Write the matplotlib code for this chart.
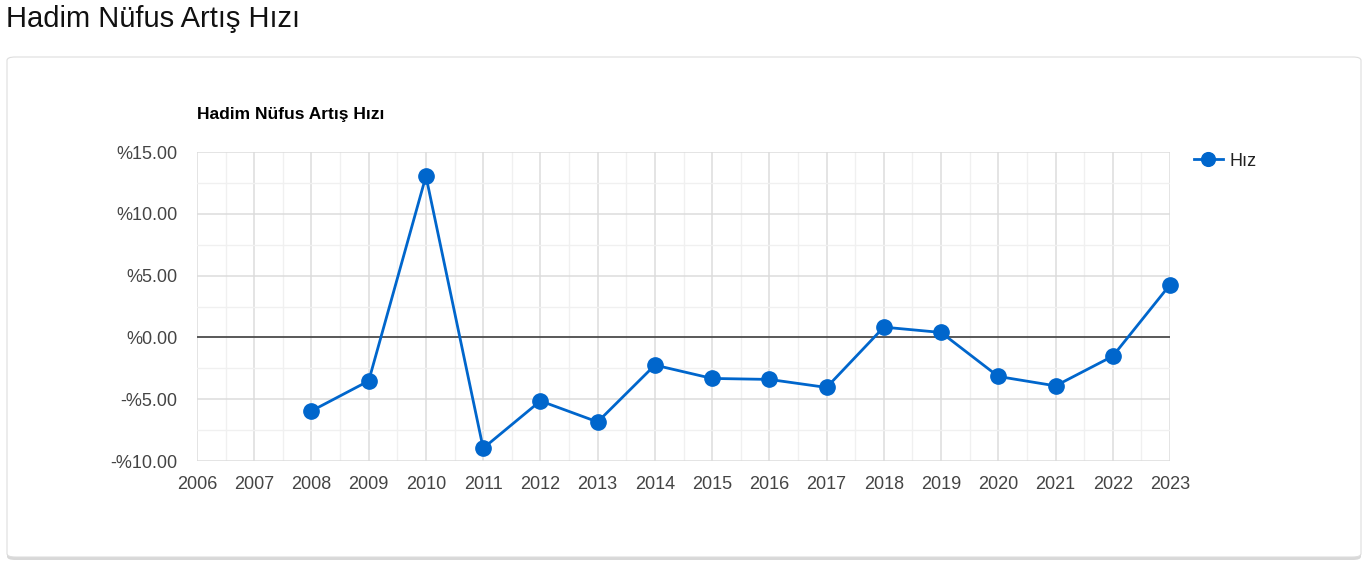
import matplotlib.pyplot as plt
from matplotlib.patches import FancyBboxPatch
from matplotlib.ticker import FuncFormatter, MultipleLocator

# veriler
years = [2008, 2009, 2010, 2011, 2012, 2013, 2014, 2015, 2016, 2017, 2018, 2019, 2020, 2021, 2022, 2023]
rates = [-5.95, -3.52, 13.05, -8.97, -5.14, -6.84, -2.24, -3.32, -3.40, -4.05, 0.83, 0.40, -3.16, -3.92, -1.52, 4.26]
x_ticks = list(range(2006, 2024))
y_ticks = [-10, -5, 0, 5, 10, 15]

plt.rcParams['font.family'] = ['Liberation Sans', 'DejaVu Sans']

W, H = 1369, 569
fig = plt.figure(figsize=(W / 100, H / 100), dpi=100)
fig.patch.set_facecolor('white')

# sayfa basligi
fig.text(6 / W, 1 - 19 / H, 'Hadim Nüfus Artış Hızı', fontsize=21, color='#111111', va='center', ha='left')

# kart (golge + beyaz kutu)
x0, y0, x1, y1 = 7, 57, 1361, 557
shadow = FancyBboxPatch((x0 / W, 1 - (y1 + 3) / H), (x1 - x0) / W, (y1 - y0) / H,
                        boxstyle='round,pad=0,rounding_size=0.006', transform=fig.transFigure,
                        facecolor='#d8d8d8', edgecolor='none', zorder=0)
card = FancyBboxPatch((x0 / W, 1 - y1 / H), (x1 - x0) / W, (y1 - y0) / H,
                      boxstyle='round,pad=0,rounding_size=0.006', transform=fig.transFigure,
                      facecolor='white', edgecolor='#dddddd', linewidth=0.8, zorder=1)
fig.patches.extend([shadow, card])

ax = fig.add_axes([197 / W, 1 - 461 / H, (1170 - 197) / W, (461 - 152) / H])
ax.set_zorder(2)
ax.set_facecolor('none')

ax.plot(years, rates, color='#0066cc', linewidth=2, marker='o', markersize=11, label='Hız', zorder=4,
        clip_on=False)
ax.axhline(0, color='#333333', linewidth=1.1, zorder=3)

ax.set_xlim(2006, 2023)
ax.set_ylim(-10, 15)
ax.set_xticks(x_ticks)
ax.set_yticks(y_ticks)
ax.xaxis.set_minor_locator(MultipleLocator(0.5))
ax.yaxis.set_minor_locator(MultipleLocator(2.5))
ax.grid(which='major', color='#dcdcdc', linewidth=1.1)
ax.grid(which='minor', color='#f0f0f0', linewidth=1)
ax.set_axisbelow(True)

def pct(v, pos):
    return ('-%' if v < 0 else '%') + '%.2f' % abs(v)

ax.yaxis.set_major_formatter(FuncFormatter(pct))
ax.tick_params(which='both', length=0, labelsize=13, colors='#444444')
ax.tick_params(axis='y', pad=14)
ax.tick_params(axis='x', pad=11)
for s in ax.spines.values():
    s.set_visible(False)

ax.text(0, 1.12, 'Hadim Nüfus Artış Hızı', transform=ax.transAxes, fontsize=12.5, fontweight='bold',
        color='#000000', ha='left', va='center')

leg = ax.legend(loc='upper left', bbox_to_anchor=(1.008, 1.05), frameon=False, fontsize=13,
                handlelength=1.6, handletextpad=0.35, markerscale=0.9)
for t in leg.get_texts():
    t.set_color('#222222')

fig.savefig('out.png', dpi=100)
